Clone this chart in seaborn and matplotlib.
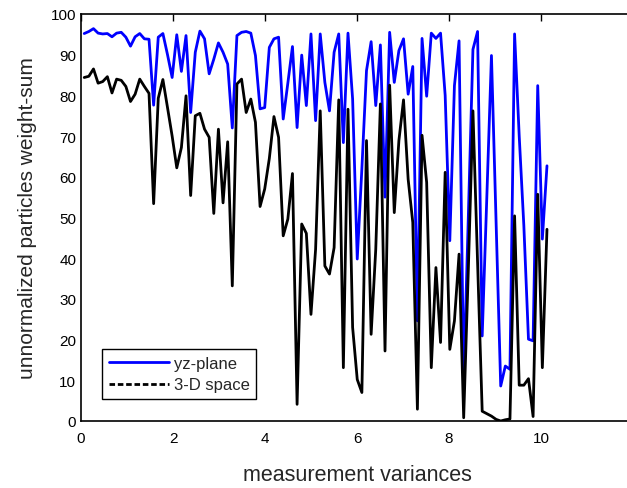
import numpy as np
import pandas as pd
import matplotlib
matplotlib.use("Agg")
import matplotlib.pyplot as plt
from matplotlib.lines import Line2D
import seaborn as sns

# values
variance = np.linspace(0.07, 10.13, 101)

yz_plane = [95.2, 95.7, 96.4, 95.3, 95.1, 95.2, 94.4, 95.3, 95.5, 94.3,
            92.1, 94.4, 95.2, 93.9, 93.8, 77.6, 94.3, 95.2, 90.0, 84.4,
            94.9, 85.9, 94.7, 75.8, 90.6, 95.8, 93.9, 85.3, 88.9, 92.9,
            90.6, 87.7, 72.0, 94.7, 95.5, 95.7, 95.3, 89.8, 76.7, 77.0,
            91.8, 93.9, 94.3, 74.2, 83.0, 92.0, 72.1, 89.9, 77.5, 95.1,
            73.8, 95.1, 83.2, 76.2, 90.6, 95.1, 68.4, 95.3, 79.1, 39.8,
            62.0, 86.1, 93.2, 77.5, 92.4, 55.0, 95.5, 83.2, 91.0, 93.9,
            80.3, 87.1, 24.6, 94.0, 79.8, 95.3, 94.0, 95.3, 80.0, 44.3,
            82.4, 93.4, 10.0, 50.0, 91.3, 95.7, 20.9, 55.0, 89.8, 49.0,
            8.6, 13.5, 12.7, 95.1, 70.0, 48.0, 20.1, 19.7, 82.4, 44.7,
            62.7]

space_3d = [84.4, 84.7, 86.5, 83.0, 83.4, 84.6, 80.6, 84.0, 83.7, 82.2,
            78.5, 80.3, 84.0, 82.2, 80.5, 53.4, 79.3, 83.9, 77.0, 70.0,
            62.2, 67.2, 79.9, 55.4, 75.0, 75.6, 71.7, 69.7, 51.0, 71.7,
            53.6, 68.6, 33.2, 82.8, 84.0, 75.8, 79.1, 73.4, 52.7, 57.0,
            64.5, 74.8, 69.7, 45.5, 49.6, 60.8, 4.1, 48.4, 46.1, 26.2,
            42.2, 76.2, 38.1, 36.1, 42.6, 78.9, 13.1, 76.6, 23.0, 10.2,
            7.0, 68.9, 21.3, 42.2, 77.9, 17.2, 82.5, 51.2, 68.9, 78.9,
            59.4, 48.8, 2.9, 70.2, 58.6, 13.1, 37.7, 19.3, 61.1, 17.6,
            24.6, 41.0, 0.8, 37.0, 76.2, 39.0, 2.4, 1.8, 1.2, 0.4,
            0.0, 0.3, 0.5, 50.4, 8.8, 8.8, 10.4, 1.1, 55.7, 13.1,
            47.1]

series_names = ["yz-plane", "3-D space"]
x_ticks = [0, 2, 4, 6, 8, 10]
y_ticks = [0, 10, 20, 30, 40, 50, 60, 70, 80, 90, 100]

df = pd.DataFrame({"variance": variance, "yz": yz_plane, "d3": space_3d})

sns.set_style("white")
plt.rcParams["font.family"] = ["Liberation Sans", "DejaVu Sans"]

fig = plt.figure(figsize=(6.27, 4.89), dpi=100)
ax = fig.add_axes([81 / 627, 67 / 489, 552 / 627, 407 / 489])

sns.lineplot(data=df, x="variance", y="yz", color="#0000ff", lw=2, ax=ax)
sns.lineplot(data=df, x="variance", y="d3", color="black", lw=2, ax=ax)

ax.set_xlim(0, 12)
ax.set_ylim(0, 100)
ax.set_xticks(x_ticks)
ax.set_yticks(y_ticks)
ax.tick_params(direction="in", length=5, width=1, top=True, right=False,
               labelsize=11, colors="black")
ax.tick_params(axis="x", pad=7)
for sp in ax.spines.values():
    sp.set_color("black")
    sp.set_linewidth(1.2)

ax.set_xlabel("measurement variances", fontsize=15.5, labelpad=14)
ax.set_ylabel("unnormalized particles weight-sum", fontsize=15, labelpad=10)

handles = [Line2D([], [], color="#0000ff", lw=2),
           Line2D([], [], color="black", lw=2, ls=(0, (2, 1)))]
leg = ax.legend(handles, series_names, loc="lower left",
                bbox_to_anchor=(21 / 552, 22 / 407), borderaxespad=0,
                fontsize=12, fancybox=False, framealpha=1, borderpad=0.4,
                handlelength=3.6, handletextpad=0.3, labelspacing=0.4)
leg.get_frame().set_edgecolor("black")
leg.get_frame().set_linewidth(1)

fig.savefig("out.png", dpi=100)
